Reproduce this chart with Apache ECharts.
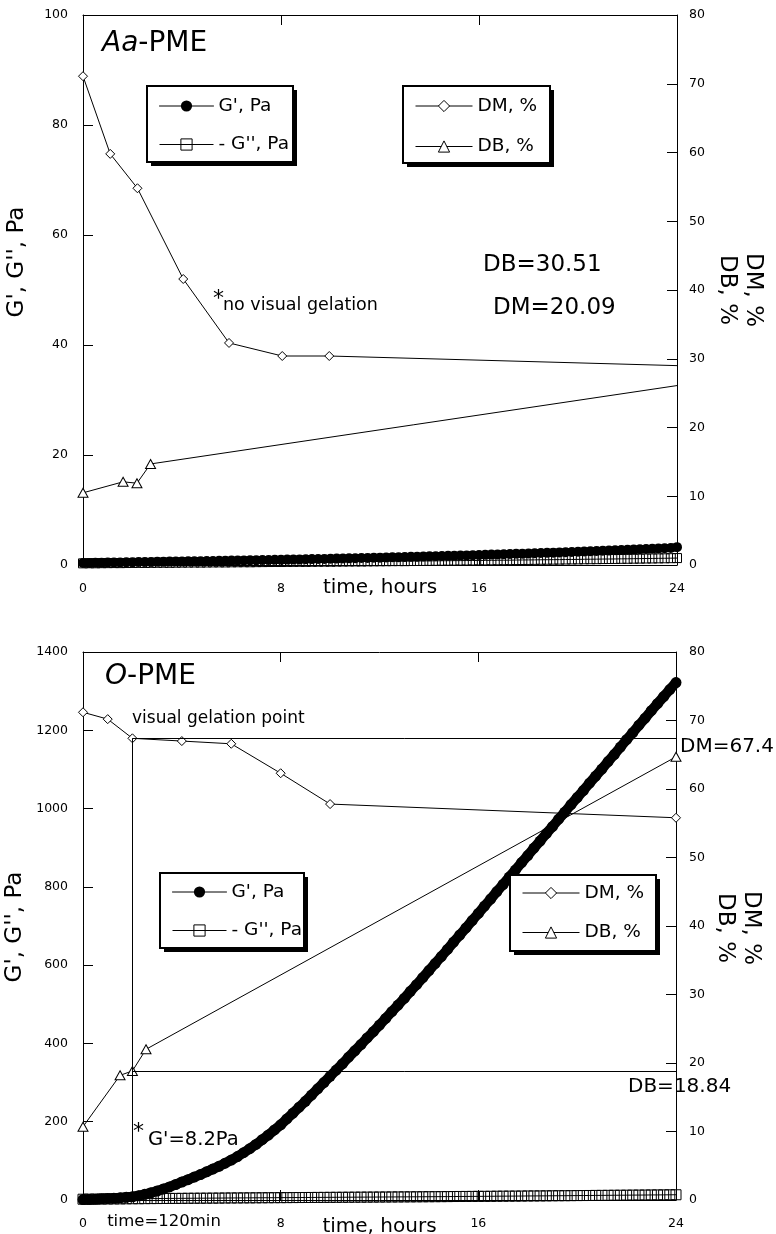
<!DOCTYPE html>
<html><head><meta charset="utf-8">
<script src="https://cdn.jsdelivr.net/npm/echarts@6/dist/echarts.min.js"></script>
<style>html,body{margin:0;padding:0;background:#fff}#c{width:776px;height:1234px}</style>
</head><body><div id="c"></div>
<script>
const FONT = 'DejaVu Sans';
const GP = "G', Pa";
const GPP = "G'', Pa";
const DM = 'DM, %';
const DB = 'DB, %';

// rheometer sampling times (hours) for G' and G''
const denseTime = [0,0.25,0.5,0.75,1,1.25,1.5,1.75,2,2.25,2.5,2.75,3,3.25,3.5,3.75,4,4.25,4.5,4.75,5,5.25,5.5,5.75,6,6.25,6.5,6.75,7,7.25,7.5,7.75,8,8.25,8.5,8.75,9,9.25,9.5,9.75,10,10.25,10.5,10.75,11,11.25,11.5,11.75,12,12.25,12.5,12.75,13,13.25,13.5,13.75,14,14.25,14.5,14.75,15,15.25,15.5,15.75,16,16.25,16.5,16.75,17,17.25,17.5,17.75,18,18.25,18.5,18.75,19,19.25,19.5,19.75,20,20.25,20.5,20.75,21,21.25,21.5,21.75,22,22.25,22.5,22.75,23,23.25,23.5,23.75,24];

// Aa-PME (top panel)
const aaGPrime = [0.35,0.38,0.40,0.42,0.44, 0.46,0.47,0.49,0.51, 0.53,0.55,0.56,0.58, 0.60,0.62,0.63,0.65, 0.67,0.69,0.70,0.72, 0.74,0.76,0.78,0.80, 0.82,0.84,0.86,0.88, 0.90,0.92,0.94,0.96, 0.98,1.00,1.02,1.05, 1.07,1.09,1.11,1.14, 1.16,1.19,1.21,1.24, 1.26,1.29,1.31,1.34, 1.37,1.40,1.42,1.45, 1.48,1.51,1.54,1.57, 1.60,1.63,1.66,1.69, 1.72,1.75,1.79,1.82, 1.85,1.89,1.92,1.96, 1.99,2.03,2.06,2.10, 2.14,2.17,2.21,2.25, 2.29,2.33,2.37,2.41, 2.45,2.49,2.54,2.58, 2.62,2.67,2.71,2.76, 2.80,2.85,2.90,2.95, 3.00,3.05,3.10,3.25];
const aaGDouble = [0.30,0.32,0.31,0.33,0.34, 0.35,0.34,0.36,0.37, 0.38,0.37,0.39,0.40, 0.41,0.40,0.42,0.43, 0.44,0.45,0.44,0.46, 0.47,0.48,0.47,0.49, 0.50,0.51,0.50,0.52, 0.53,0.54,0.55,0.54, 0.56,0.57,0.58,0.57, 0.59,0.60,0.61,0.60, 0.62,0.63,0.64,0.65, 0.64,0.66,0.67,0.68, 0.69,0.70,0.71,0.70, 0.72,0.73,0.74,0.75, 0.76,0.77,0.78,0.79, 0.80,0.81,0.82,0.83, 0.84,0.85,0.86,0.87, 0.88,0.90,0.91,0.92, 0.93,0.95,0.96,0.97, 0.98,1.00,1.01,1.02, 1.04,1.05,1.06,1.08, 1.09,1.10,1.12,1.13, 1.15,1.16,1.18,1.19, 1.21,1.22,1.24,1.26];
const aaDMTime = [0, 1.1, 2.2, 4.05, 5.9, 8.05, 9.95, 24];
const aaDM = [71.1, 59.8, 54.8, 41.6, 32.3, 30.4, 30.4, 29.0];
const aaDBTime = [0, 1.62, 2.18, 2.73, 24];
const aaDB = [10.5, 12.1, 11.9, 14.7, 26.1];

// O-PME (bottom panel)
const oGPrime = [1,1.5,2,3,4, 4.5,5.5,7,8.2, 11,14.5,18.5,23, 28,33.5,39.5,46, 52,58.5,65,72, 79,86,94,102, 111,121,131,142, 154,166,179,192, 207,222,237,252, 268,284,300,316, 332,348,365,381, 397,414,430,447, 464,481,498,515, 533,550,568,586, 604,622,640,659, 677,695,714,732, 751,769,788,806, 825,843,862,880, 899,917,936,954, 973,991,1010,1028, 1046,1065,1083,1101, 1120,1138,1157,1176, 1194,1213,1231,1250, 1268,1286,1304,1322];
const oGDouble = [2.0,2.2,2.3,2.5,2.6, 2.8,2.9,3.1,3.2, 3.3,3.5,3.6,3.7, 3.9,4.0,4.1,4.2, 4.4,4.5,4.6,4.7, 4.8,4.9,5.1,5.2, 5.3,5.4,5.5,5.6, 5.7,5.8,5.9,6.0, 6.1,6.2,6.3,6.4, 6.5,6.6,6.7,6.8, 6.9,7.0,7.1,7.2, 7.3,7.4,7.5,7.6, 7.7,7.8,7.9,8.0, 8.1,8.2,8.3,8.4, 8.5,8.6,8.7,8.9, 9.0,9.1,9.2,9.3, 9.4,9.5,9.7,9.8, 9.9,10.0,10.1,10.3, 10.4,10.5,10.6,10.8, 10.9,11.0,11.1,11.3, 11.4,11.5,11.7,11.8, 11.9,12.1,12.2,12.3, 12.5,12.6,12.7,12.9, 13.0,13.1,13.3,13.4];
const oDMTime = [0, 1, 2, 4, 6, 8, 10, 24];
const oDM = [71.2, 70.2, 67.4, 67.0, 66.6, 62.3, 57.8, 55.8];
const oDBTime = [0, 1.5, 2, 2.55, 24];
const oDB = [10.7, 18.2, 18.84, 22.0, 64.7];

// visual gelation point (O-PME)
const gelTime = 2;
const gelDM = 67.4;
const gelDB = 18.84;

const timeMax = 24;
const timeStep = 8;

function pairs(xs, ys) { return xs.map((x, i) => [x, ys[i]]); }
function pairsHideLast(xs, ys) {
  return xs.map((x, i) => i === xs.length - 1 ? { value: [x, ys[i]], symbol: 'none' } : [x, ys[i]]);
}

const black = '#000';
const axisFont = { color: black, fontFamily: FONT, fontSize: 12.5, formatter: v => String(v) };

function xAxisBottom(grid, gap) {
  return {
    type: 'value', gridIndex: grid, position: 'bottom', min: 0, max: timeMax, interval: timeStep,
    axisLine: { show: true, onZero: false, lineStyle: { color: black, width: 1 } },
    axisTick: { show: true, inside: true, length: 10, lineStyle: { color: black } },
    axisLabel: Object.assign({ margin: 17 }, axisFont),
    splitLine: { show: false },
    name: 'time, hours', nameLocation: 'middle', nameGap: gap, nameMoveOverlap: false,
    nameTextStyle: { color: black, fontFamily: FONT, fontSize: 20 }
  };
}
function xAxisTop(grid) {
  return {
    type: 'value', gridIndex: grid, position: 'top', min: 0, max: timeMax, interval: timeStep,
    axisLine: { show: true, onZero: false, lineStyle: { color: black, width: 1 } },
    axisTick: { show: true, inside: true, length: 10, lineStyle: { color: black } },
    axisLabel: { show: false }, splitLine: { show: false }
  };
}
function yAxis(grid, pos, max, interval, margin) {
  return {
    type: 'value', gridIndex: grid, position: pos, min: 0, max: max, interval: interval,
    axisLine: { show: true, onZero: false, lineStyle: { color: black, width: 1 } },
    axisTick: { show: true, inside: true, length: 10, lineStyle: { color: black } },
    minorTick: { show: false },
    axisLabel: Object.assign({ margin: margin }, axisFont),
    splitLine: { show: false }
  };
}

function gDouble(xi, yi, data, size) {
  return {
    name: GPP, type: 'line', xAxisIndex: xi, yAxisIndex: yi, data: data,
    symbol: 'rect', symbolSize: size, showAllSymbol: true,
    itemStyle: { color: 'rgba(0,0,0,0)', borderColor: black, borderWidth: 1 },
    lineStyle: { color: black, width: 1 }, emphasis: { disabled: true }, z: 2
  };
}
function gPrime(xi, yi, data, size, lw) {
  return {
    name: GP, type: 'line', xAxisIndex: xi, yAxisIndex: yi, data: data,
    symbol: 'circle', symbolSize: size, showAllSymbol: true,
    itemStyle: { color: black, borderWidth: 0 },
    lineStyle: { color: black, width: lw, cap: 'round', join: 'round' }, emphasis: { disabled: true }, z: 3
  };
}
function dmSeries(xi, yi, data) {
  return {
    name: DM, type: 'line', xAxisIndex: xi, yAxisIndex: yi, data: data,
    symbol: 'diamond', symbolSize: 9, showAllSymbol: true,
    itemStyle: { color: '#fff', borderColor: black, borderWidth: 1 },
    lineStyle: { color: black, width: 1 }, emphasis: { disabled: true }, z: 4
  };
}
function dbSeries(xi, yi, data) {
  return {
    name: DB, type: 'line', xAxisIndex: xi, yAxisIndex: yi, data: data,
    symbol: 'triangle', symbolSize: [10, 9], showAllSymbol: true,
    itemStyle: { color: '#fff', borderColor: black, borderWidth: 1 },
    lineStyle: { color: black, width: 1 }, emphasis: { disabled: true }, z: 4
  };
}

const oDMSeries = dmSeries(2, 3, pairs(oDMTime, oDM));
oDMSeries.markLine = {
  silent: true, symbol: ['none', 'none'], label: { show: false }, animation: false,
  lineStyle: { color: black, width: 1, type: 'solid' },
  emphasis: { disabled: true },
  data: [
    [{ coord: [gelTime, gelDM] }, { coord: [timeMax, gelDM] }],
    [{ coord: [gelTime, gelDM] }, { coord: [gelTime, 0] }],
    [{ coord: [gelTime, gelDB] }, { coord: [timeMax, gelDB] }]
  ]
};

const legendBase = {
  orient: 'vertical', selectedMode: false, itemHeight: 14,
  padding: 0, z: 12,
  textStyle: { color: black, fontFamily: FONT, fontSize: 18.5 },
  lineStyle: { width: 1, color: black },
  formatter: n => (n === GPP ? '- ' + n : n)
};
const gLegendData = [
  { name: GP, itemStyle: { color: black, borderWidth: 0 } },
  { name: GPP, itemStyle: { color: 'rgba(0,0,0,0)', borderColor: black, borderWidth: 1 } }
];
const dLegendData = [
  { name: DM, itemStyle: { color: '#fff', borderColor: black, borderWidth: 1 } },
  { name: DB, itemStyle: { color: '#fff', borderColor: black, borderWidth: 1 } }
];
function legend(left, top, gap, width, data) {
  return Object.assign({}, legendBase, { left: left, top: top, itemGap: gap, itemWidth: width, data: data });
}

// legend frames: white box with 2px border and hard black drop shadow
function frame(x, y, w, h) {
  return [
    { type: 'rect', z: 10, silent: true, shape: { x: x + 4, y: y + 4, width: w, height: h }, style: { fill: black } },
    { type: 'rect', z: 11, silent: true, shape: { x: x, y: y, width: w, height: h }, style: { fill: '#fff', stroke: black, lineWidth: 2 } }
  ];
}

function txt(x, y, text, size, align, extra) {
  return {
    type: 'text', x: x, y: y, z: 100, silent: true,
    style: Object.assign({ text: text, fill: black, fontFamily: FONT, fontSize: size,
      align: align || 'left', verticalAlign: 'middle' }, extra || {})
  };
}
function rotTxt(x, y, text, size, rot) {
  return {
    type: 'text', x: x, y: y, rotation: rot, z: 100, silent: true,
    style: { text: text, fill: black, fontFamily: FONT, fontSize: size, lineHeight: 26,
      align: 'center', verticalAlign: 'middle' }
  };
}

const option = {
  animation: false,
  backgroundColor: '#fff',
  grid: [
    { left: 83, top: 15, width: 594, height: 550, outerBoundsMode: 'none', containLabel: false },
    { left: 83, top: 652, width: 593, height: 548, outerBoundsMode: 'none', containLabel: false }
  ],
  xAxis: [xAxisBottom(0, 13), xAxisTop(0), xAxisBottom(1, 17), xAxisTop(1)],
  yAxis: [
    yAxis(0, 'left', 100, 20, 15), yAxis(0, 'right', 80, 10, 12),
    yAxis(1, 'left', 1400, 200, 15), yAxis(1, 'right', 80, 10, 13)
  ],
  legend: [
    legend(159, 96.5, 19.5, 54, gLegendData),
    legend(415, 96.5, 21.5, 57, dLegendData),
    legend(172, 882.5, 19.5, 54, gLegendData),
    legend(522, 883.5, 20.5, 57, dLegendData)
  ],
  series: [
    gDouble(0, 0, pairs(denseTime, aaGDouble), 9),
    gPrime(0, 0, pairs(denseTime, aaGPrime), 10, 8),
    dmSeries(0, 1, pairsHideLast(aaDMTime, aaDM)),
    dbSeries(0, 1, pairsHideLast(aaDBTime, aaDB)),
    gDouble(2, 2, pairs(denseTime, oGDouble), 10),
    gPrime(2, 2, pairs(denseTime, oGPrime), 11, 10),
    oDMSeries,
    dbSeries(2, 3, pairs(oDBTime, oDB))
  ],
  graphic: [].concat(
    frame(147, 86, 146, 76),
    frame(403, 86, 147, 77),
    frame(160, 873, 144, 75),
    frame(510, 875, 146, 76),
    [
      txt(102, 44, '{i|Aa}-PME', 28, 'left', { rich: { i: { fontStyle: 'italic', fontSize: 28, fontFamily: FONT, fill: black } } }),
      txt(213, 299, '*', 22),
      txt(223, 305, 'no visual gelation', 17.5),
      txt(483, 265, 'DB=30.51', 23),
      txt(493, 308, 'DM=20.09', 23),
      rotTxt(17, 262, "G', G'', Pa", 23, Math.PI / 2),
      rotTxt(740, 290, 'DM, %\nDB, %', 23, -Math.PI / 2),

      txt(105, 677, '{i|O}-PME', 28, 'left', { rich: { i: { fontStyle: 'italic', fontSize: 28, fontFamily: FONT, fill: black } } }),
      txt(132, 719, 'visual gelation point', 17),
      txt(680, 747, 'DM=67.4', 20),
      txt(628, 1087, 'DB=18.84', 20),
      txt(133, 1132, '*', 22),
      txt(148, 1140, "G'=8.2Pa", 19.5),
      txt(164, 1222, 'time=120min', 16.5, 'center'),
      rotTxt(15, 927, "G', G'', Pa", 23, Math.PI / 2),
      rotTxt(738, 928, 'DM, %\nDB, %', 23, -Math.PI / 2)
    ]
  )
};

const chart = echarts.init(document.getElementById('c'), null, { renderer: 'canvas', width: 776, height: 1234 });
chart.setOption(option);
</script>
</body></html>
